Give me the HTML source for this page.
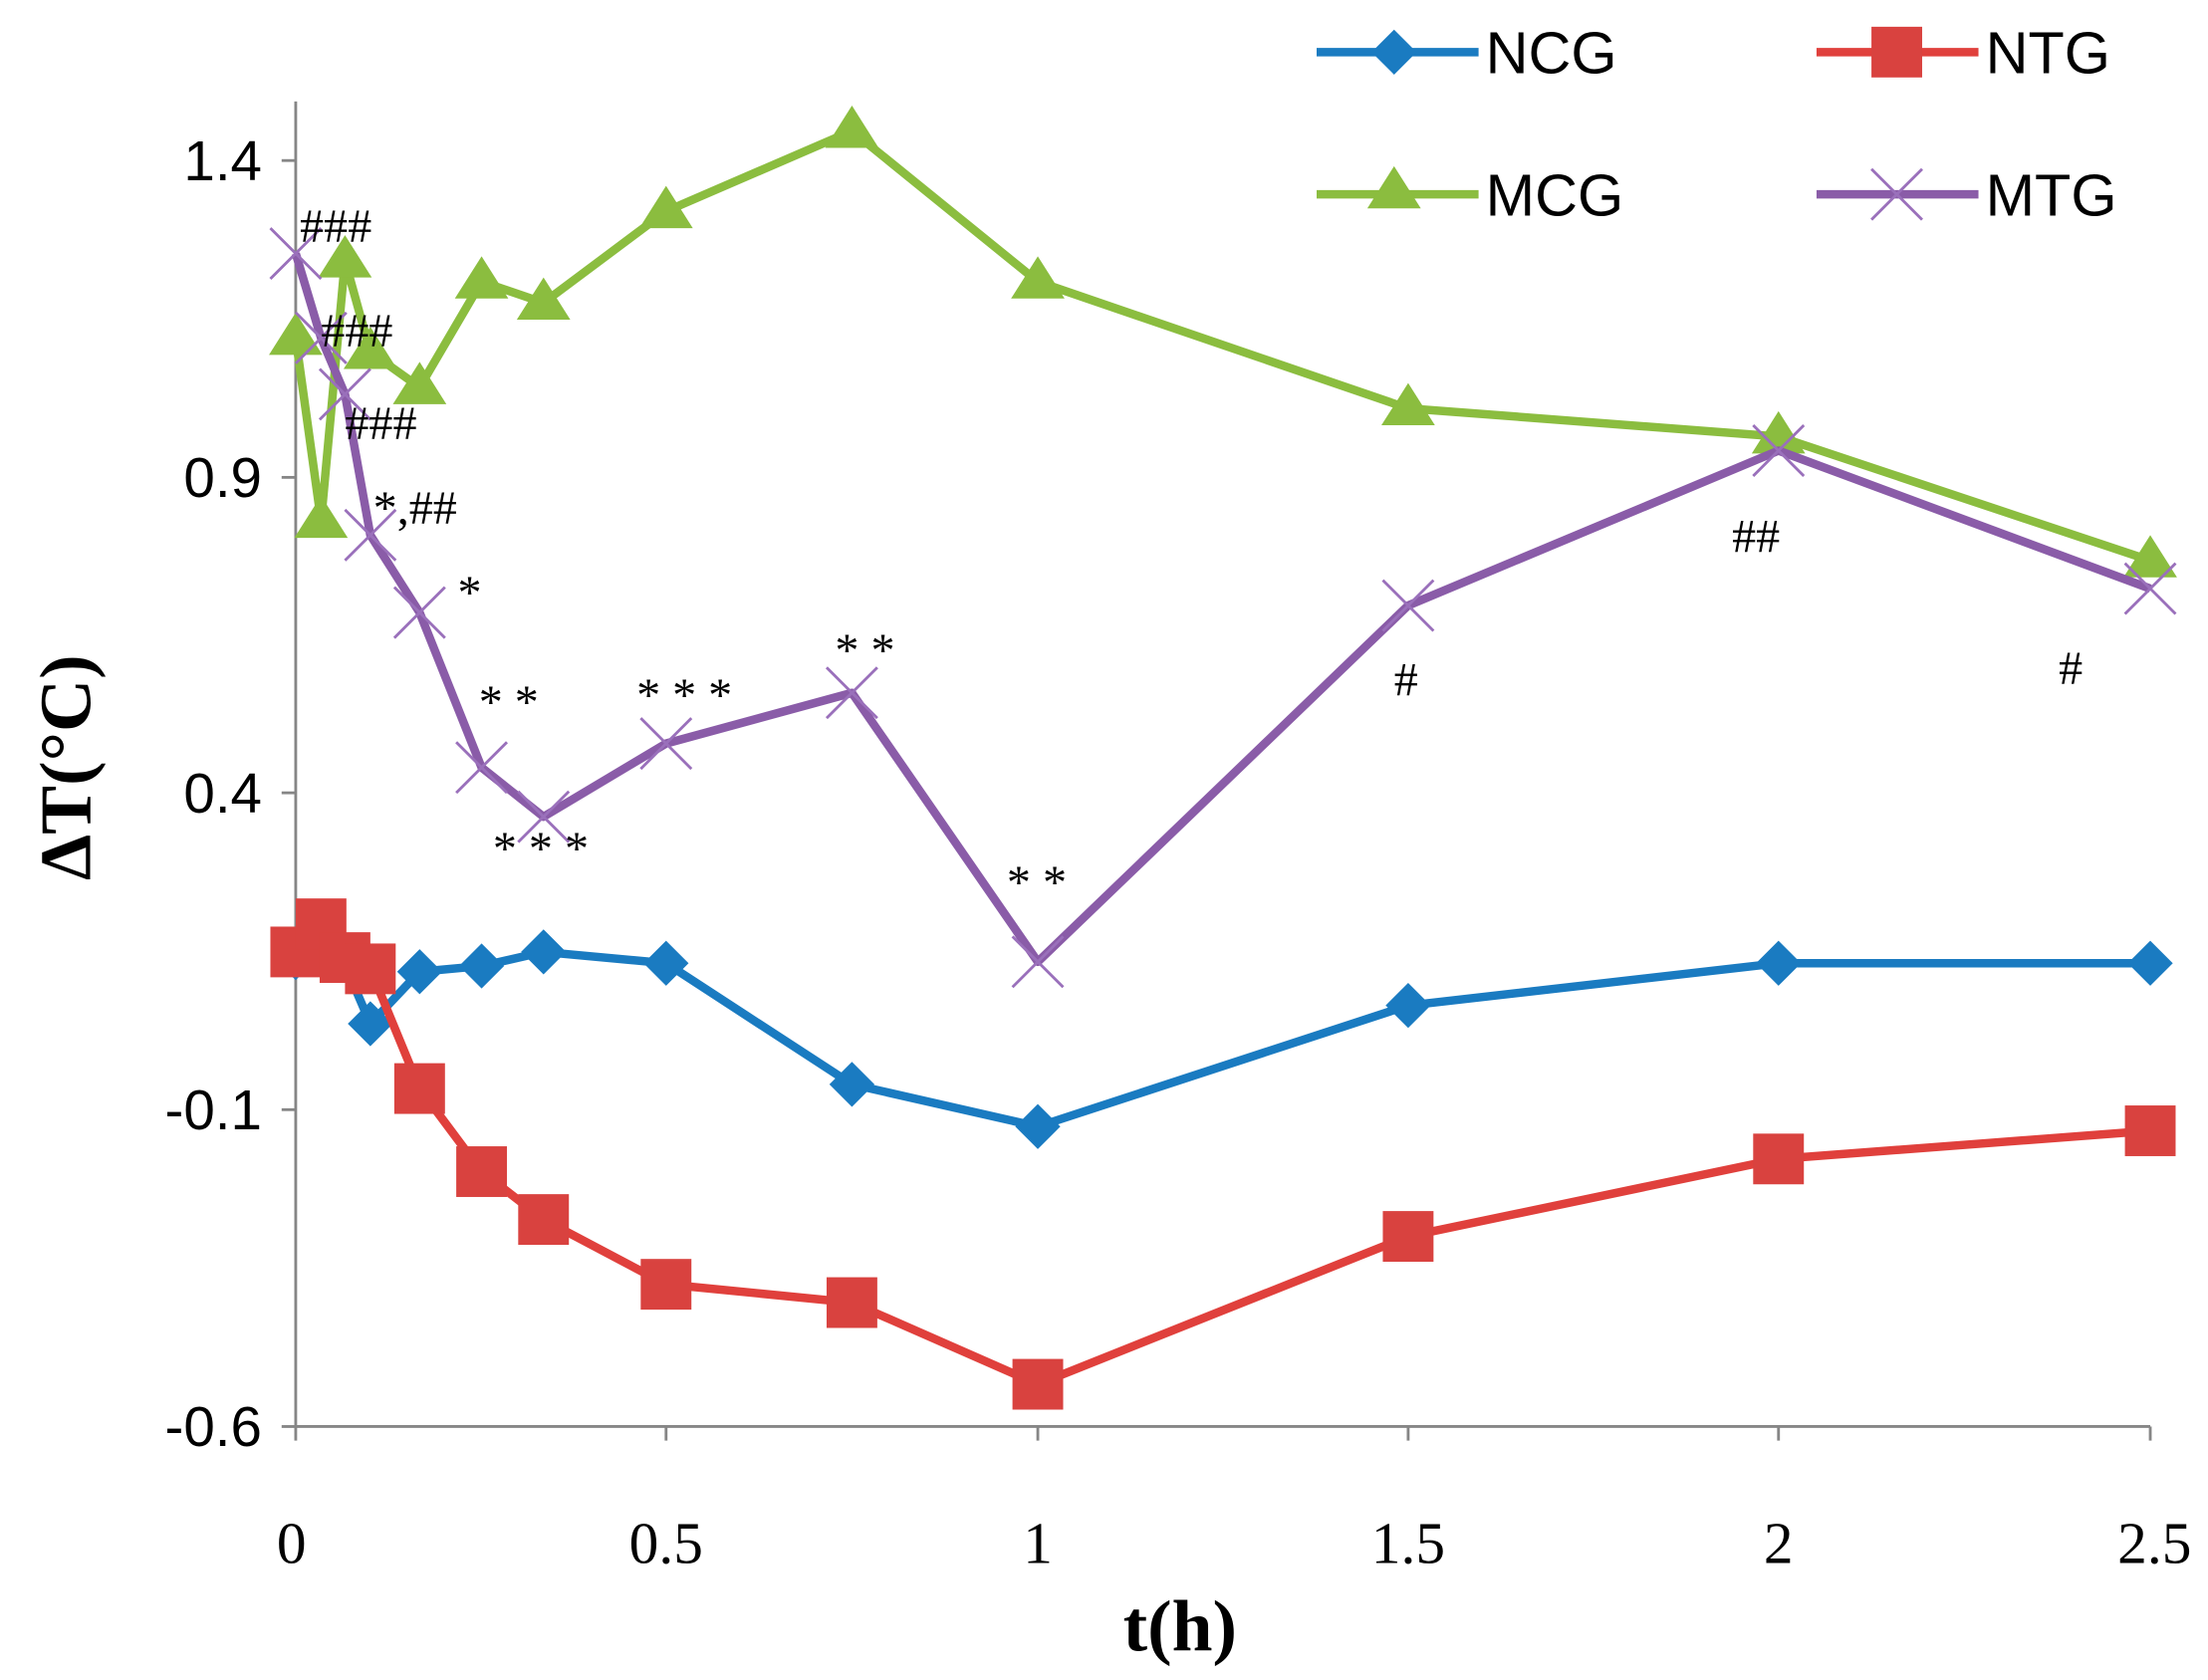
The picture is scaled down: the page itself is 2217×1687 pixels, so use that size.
<!DOCTYPE html>
<html><head><meta charset="utf-8"><style>html,body{margin:0;padding:0;background:#fff}svg{display:block}</style></head><body>
<svg width="2217" height="1687" viewBox="0 0 1568 1193" preserveAspectRatio="none" xmlns="http://www.w3.org/2000/svg">
<rect width="1568" height="1193" fill="#fff"/>
<g stroke="#868686" stroke-width="2" fill="none">
<line x1="210" y1="72" x2="210" y2="1013"/>
<line x1="210" y1="1013" x2="1527" y2="1013"/>
<line x1="200" y1="114" x2="210" y2="114"/><line x1="200" y1="339" x2="210" y2="339"/><line x1="200" y1="563" x2="210" y2="563"/><line x1="200" y1="788" x2="210" y2="788"/><line x1="200" y1="1013" x2="210" y2="1013"/>
<line x1="210" y1="1013" x2="210" y2="1023"/><line x1="473" y1="1013" x2="473" y2="1023"/><line x1="737" y1="1013" x2="737" y2="1023"/><line x1="1000" y1="1013" x2="1000" y2="1023"/><line x1="1263" y1="1013" x2="1263" y2="1023"/><line x1="1527" y1="1013" x2="1527" y2="1023"/>
</g>
<g font-family="Liberation Sans, sans-serif" font-size="40" fill="#000" text-anchor="end">
<text x="186" y="128">1.4</text><text x="186" y="353">0.9</text><text x="186" y="577">0.4</text><text x="186" y="802">-0.1</text><text x="186" y="1027">-0.6</text>
</g>
<g font-family="Liberation Serif, serif" font-size="42" fill="#000" text-anchor="middle">
<text x="207" y="1110">0</text><text x="473" y="1110">0.5</text><text x="737" y="1110">1</text><text x="1000" y="1110">1.5</text><text x="1263" y="1110">2</text><text x="1530" y="1110">2.5</text>
</g>
<text x="838" y="1172" font-family="Liberation Serif, serif" font-weight="bold" font-size="52" text-anchor="middle">t(h)</text>
<text transform="translate(64,545) rotate(-90)" font-family="Liberation Serif, serif" font-weight="bold" font-size="52" text-anchor="middle">ΔT(°C)</text>
<!-- NCG -->
<polyline fill="none" stroke="#1a7bc1" stroke-width="6" stroke-linejoin="round" points="210,680 228,680 245,685 263,727 298,690 342,686 386,676 473,684 605,770 737,800 1000,714 1263,684 1527,684"/>
<g fill="#1a7bc1">
<path d="M210,664l16,16l-16,16l-16-16z"/><path d="M263,711l16,16l-16,16l-16-16z"/><path d="M298,674l16,16l-16,16l-16-16z"/><path d="M342,670l16,16l-16,16l-16-16z"/><path d="M386,660l16,16l-16,16l-16-16z"/><path d="M473,668l16,16l-16,16l-16-16z"/><path d="M605,754l16,16l-16,16l-16-16z"/><path d="M737,784l16,16l-16,16l-16-16z"/><path d="M1000,698l16,16l-16,16l-16-16z"/><path d="M1263,668l16,16l-16,16l-16-16z"/><path d="M1527,668l16,16l-16,16l-16-16z"/>
</g>
<!-- NTG -->
<polyline fill="none" stroke="#e0403c" stroke-width="6" stroke-linejoin="round" points="210,676 228,656 245,680 263,688 298,773 342,832 386,866 473,912 605,925 737,983 1000,878 1263,823 1527,803"/>
<g fill="#d9423f">
<rect x="192" y="658" width="36" height="36"/><rect x="210" y="638" width="36" height="36"/><rect x="227" y="662" width="36" height="36"/><rect x="245" y="670" width="36" height="36"/><rect x="280" y="755" width="36" height="36"/><rect x="324" y="814" width="36" height="36"/><rect x="368" y="848" width="36" height="36"/><rect x="455" y="894" width="36" height="36"/><rect x="587" y="907" width="36" height="36"/><rect x="719" y="965" width="36" height="36"/><rect x="982" y="860" width="36" height="36"/><rect x="1245" y="805" width="36" height="36"/><rect x="1509" y="785" width="36" height="36"/>
</g>
<!-- MCG -->
<polyline fill="none" stroke="#8bbd3f" stroke-width="6" stroke-linejoin="round" points="210,240 228,370 245,185 263,250 298,275 342,200 386,215 473,150 605,93 737,200 1000,290 1263,310 1527,398"/>
<g fill="#8bbd3f">
<path d="M210,222l19,30h-38z"/><path d="M228,352l19,30h-38z"/><path d="M245,167l19,30h-38z"/><path d="M263,232l19,30h-38z"/><path d="M298,257l19,30h-38z"/><path d="M342,182l19,30h-38z"/><path d="M386,197l19,30h-38z"/><path d="M473,132l19,30h-38z"/><path d="M605,75l19,30h-38z"/><path d="M737,182l19,30h-38z"/><path d="M1000,272l19,30h-38z"/><path d="M1263,292l19,30h-38z"/><path d="M1527,380l19,30h-38z"/>
</g>
<!-- MTG -->
<polyline fill="none" stroke="#8a5ca8" stroke-width="6" stroke-linejoin="round" points="210,180 228,240 245,280 263,380 298,435 342,545 386,580 473,528 605,492 737,683 1000,430 1263,320 1527,418"/>
<g stroke="#9a70bb" stroke-width="2">
<path d="M192,162l36,36M228,162l-36,36"/><path d="M210,222l36,36M246,222l-36,36"/><path d="M227,262l36,36M263,262l-36,36"/><path d="M245,362l36,36M281,362l-36,36"/><path d="M280,417l36,36M316,417l-36,36"/><path d="M324,527l36,36M360,527l-36,36"/><path d="M368,562l36,36M404,562l-36,36"/><path d="M455,510l36,36M491,510l-36,36"/><path d="M587,474l36,36M623,474l-36,36"/><path d="M719,665l36,36M755,665l-36,36"/><path d="M982,412l36,36M1018,412l-36,36"/><path d="M1245,302l36,36M1281,302l-36,36"/><path d="M1509,400l36,36M1545,400l-36,36"/>
</g>
<!-- annotations -->
<g font-family="Liberation Serif, serif" font-size="34" fill="#000">
<text x="213" y="172">###</text><text x="228" y="246">###</text><text x="245" y="312">###</text>
<text x="265" y="372">*,##</text><text x="325" y="432">*</text>
<text x="340" y="510">* *</text><text x="452" y="505">* * *</text><text x="593" y="473">* *</text>
<text x="350" y="614">* * *</text><text x="715" y="638">* *</text>
<text x="990" y="494">#</text><text x="1230" y="392">##</text><text x="1462" y="486">#</text>
</g>
<!-- legend -->
<line x1="935" y1="37" x2="1050" y2="37" stroke="#1a7bc1" stroke-width="6"/><path d="M990,21l16,16l-16,16l-16-16z" fill="#1a7bc1"/>
<line x1="1290" y1="37" x2="1405" y2="37" stroke="#e0403c" stroke-width="6"/><rect x="1329" y="19" width="36" height="36" fill="#d9423f"/>
<line x1="935" y1="138" x2="1050" y2="138" stroke="#8bbd3f" stroke-width="6"/><path d="M990,118l19,30h-38z" fill="#8bbd3f"/>
<line x1="1290" y1="138" x2="1405" y2="138" stroke="#8a5ca8" stroke-width="6"/><path d="M1329,120l36,36M1365,120l-36,36" stroke="#9a70bb" stroke-width="2"/>
<g font-family="Liberation Sans, sans-serif" font-size="42" fill="#000">
<text x="1055" y="52">NCG</text><text x="1410" y="52">NTG</text><text x="1055" y="153">MCG</text><text x="1410" y="153">MTG</text>
</g>
</svg>
</body></html>
